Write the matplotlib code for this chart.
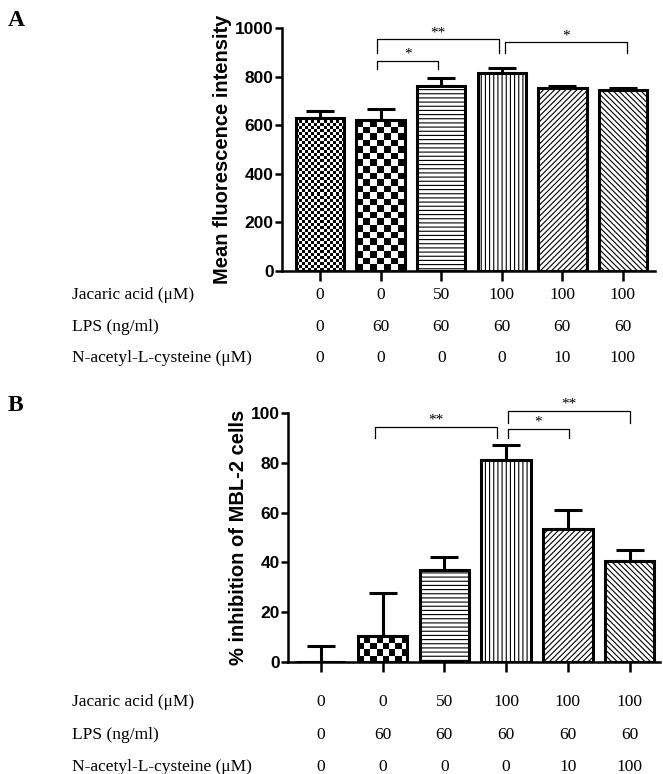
import numpy as np
import matplotlib
matplotlib.use("Agg")
import matplotlib.pyplot as plt
from matplotlib.transforms import blended_transform_factory

# data
jacaric = ["0", "0", "50", "100", "100", "100"]
lps = ["0", "60", "60", "60", "60", "60"]
nac = ["0", "0", "0", "0", "10", "100"]
row_names = ["Jacaric acid (\u03bcM)", "LPS (ng/ml)", "N-acetyl-L-cysteine (\u03bcM)"]

mfi = [630, 621, 761, 815, 753, 745]
mfi_err = [28, 45, 33, 20, 8, 8]
inhib = [0, 10.4, 37, 81, 53.4, 40.6]
inhib_err = [6.4, 17.3, 5, 6, 7.6, 4.4]

# brackets: x left, x right, top, leg bottom, label
sig_a = [(0.94, 1.95, 865, 830, "*"), (0.94, 2.95, 953, 897, "**"), (3.06, 5.07, 942, 897, "*")]
sig_b = [(0.87, 2.85, 94.4, 90, "**"), (3.03, 4.01, 93.6, 90, "*"), (3.03, 5.0, 101, 96, "**")]

hatches = [None, None, "----", "||||", "//////", "\\\\\\\\\\\\"]
checker_px = [3, 6.5]

plt.rcParams["hatch.linewidth"] = 0.8
sans = "Liberation Sans"
serif = "Liberation Serif"

fig = plt.figure(figsize=(6.63, 7.74), dpi=100)


def checker(ax, bar, cell):
    x0, y0 = bar.get_x(), bar.get_y()
    w, h = bar.get_width(), bar.get_height()
    if h <= 0:
        return
    p0 = ax.transData.transform((x0, y0))
    p1 = ax.transData.transform((x0 + w, y0 + h))
    nx = max(1, int(round((p1[0] - p0[0]) / cell)))
    ny = max(1, int(round((p1[1] - p0[1]) / cell)))
    arr = np.add.outer(np.arange(ny), np.arange(nx)) % 2
    im = ax.imshow(arr, extent=[x0, x0 + w, y0, y0 + h], cmap="gray",
                   interpolation="nearest", aspect="auto", zorder=1, origin="lower")
    im.set_clip_path(bar)


def panel(rect, vals, errs, ylim, yticks, ylabel, xlim, sigs, letter, rows_y):
    ax = fig.add_axes(rect)
    x = np.arange(len(vals))
    ax.set_xlim(*xlim)
    ax.set_ylim(*ylim)
    ax.errorbar(x, vals, yerr=[np.zeros(len(vals)), errs], fmt="none",
                ecolor="black", elinewidth=2.2, capsize=10, capthick=2.2, zorder=1.5)
    bars = ax.bar(x, vals, width=0.8, color="white", edgecolor="black",
                  linewidth=2.2, zorder=2)
    for i, b in enumerate(bars):
        if hatches[i] is None:
            b.set_facecolor("none")
            checker(ax, b, checker_px[i])
        else:
            b.set_hatch(hatches[i])
    ax.set_xlim(*xlim)
    ax.set_ylim(*ylim)
    for s in ["top", "right"]:
        ax.spines[s].set_visible(False)
    for s in ["left", "bottom"]:
        ax.spines[s].set_linewidth(1.8)
    ax.set_xticks(x)
    ax.set_xticklabels([])
    ax.set_yticks(yticks)
    ax.tick_params(axis="x", length=7, width=1.8, direction="out")
    ax.tick_params(axis="y", length=5, width=1.8, pad=1)
    for t in ax.get_yticklabels():
        t.set_fontfamily(sans)
        t.set_fontweight("bold")
        t.set_fontsize(12.5)
    ax.set_ylabel(ylabel, fontfamily=sans, fontweight="bold", fontsize=14.5, labelpad=2)

    for xl, xr, top, leg, lab in sigs:
        ax.plot([xl, xl, xr, xr], [leg, top, top, leg], color="black", lw=0.9,
                clip_on=False, zorder=3)
        ax.text((xl + xr) / 2, top, lab, ha="center", va="bottom", fontsize=11,
                fontfamily=serif, clip_on=False)

    tr = blended_transform_factory(ax.transData, fig.transFigure)
    for row, name, yy in zip([jacaric, lps, nac], row_names, rows_y):
        fig.text(72 / 663, yy, name, ha="left", va="center", fontsize=12.5, fontfamily=serif)
        for i, v in enumerate(row):
            ax.text(x[i], yy, v, transform=tr, ha="center", va="center",
                    fontsize=12.5, fontfamily=serif)

    fig.text(8 / 663, rect[1] + rect[3] + 0.01, letter, fontsize=17, fontweight="bold",
             fontfamily=serif, ha="left", va="center")
    return ax


panel([282 / 663, 1 - 271 / 774, 373 / 663, 243 / 774], mfi, mfi_err, (0, 1000),
      [0, 200, 400, 600, 800, 1000], "Mean fluorescence intensity", (-0.63, 5.53),
      sig_a, "A", [1 - 295 / 774, 1 - 327 / 774, 1 - 358 / 774])

panel([288 / 663, 1 - 662 / 774, 372 / 663, 249 / 774], inhib, inhib_err, (0, 100),
      [0, 20, 40, 60, 80, 100], "% inhibition of MBL-2 cells", (-0.53, 5.49),
      sig_b, "B", [1 - 702 / 774, 1 - 735 / 774, 1 - 767 / 774])

fig.savefig("out.png", dpi=100)
